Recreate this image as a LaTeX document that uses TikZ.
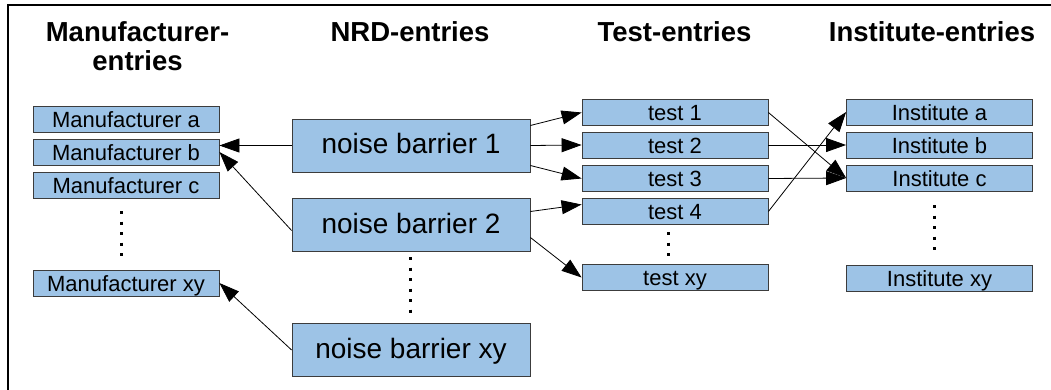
\documentclass[tikz,border=0pt]{standalone}
\usepackage{fontspec}
\setmainfont{Liberation Sans}
\usetikzlibrary{arrows.meta}
\definecolor{boxfill}{RGB}{157,195,230}
\definecolor{boxline}{RGB}{60,60,60}
\begin{document}
\begin{tikzpicture}[x=1pt,y=-1pt,
  box/.style={draw=boxline, line width=0.8pt, fill=boxfill, inner sep=0pt, anchor=center},
  small/.style={box, minimum width=186pt, minimum height=26pt, text height=18.5pt, text depth=2pt, font=\fontsize{22}{24}\selectfont},
  big/.style={box, minimum width=238pt, minimum height=53pt, text height=21pt, text depth=4pt, font=\fontsize{28}{30}\selectfont},
  head/.style={font=\fontsize{27.5}{30}\selectfont\bfseries, anchor=base, inner sep=0pt},
  arr/.style={-{Triangle[length=20pt,width=14pt]}, line width=0.8pt},
  dotline/.style={line width=3pt, dash pattern=on 3pt off 7.5pt}]
\useasboundingbox (0,0) rectangle (1051,390);
% frame
\draw[line width=2pt] (8,391) -- (8,5) -- (1052,5);
% headings
\node[head] (h1) at (137.5,42) {Manufacturer-};
\node[head] (h1b) at (137.5,71) {entries};
\node[head] (h2) at (410,42) {NRD-entries};
\node[head] (h3) at (674.5,42) {Test-entries};
\node[head] (h4) at (932,42) {Institute-entries};
% manufacturers
\node[small] (ma) at (126,119) {Manufacturer a};
\node[small] (mb) at (126,152) {Manufacturer b};
\node[small] (mc) at (126,185) {Manufacturer c};
\node[small] (mxy) at (126,283) {Manufacturer xy};
\draw[dotline] (121,211) -- (121,257);
% noise barriers
\node[big] (nb1) at (411,145.5) {noise barrier 1};
\node[big] (nb2) at (411,224.5) {noise barrier 2};
\node[big] (nbxy) at (411,350) {noise barrier xy};
\draw[dotline] (410,257) -- (410,317);
% tests
\node[small] (t1) at (675,112.5) {test 1};
\node[small] (t2) at (675,145) {test 2};
\node[small] (t3) at (675,178.5) {test 3};
\node[small] (t4) at (675,211.5) {test 4};
\node[small] (txy) at (675,277.5) {test xy};
\draw[dotline] (668,232) -- (668,257);
% institutes
\node[small] (ia) at (939.5,112) {Institute a};
\node[small] (ib) at (939.5,145) {Institute b};
\node[small] (ic) at (939.5,178) {Institute c};
\node[small] (ixy) at (939.5,278) {Institute xy};
\draw[dotline] (934,205) -- (934,251);
% arrows to manufacturers
\draw[arr] (nb1.west) -- (nb1.west -| mb.east);
\draw[arr] ([yshift=-6pt]nb2.west) -- (mb.east);
\draw[arr] (nbxy.west) -- (mxy.east);
% arrows to tests
\draw[arr] ([yshift=20pt]nb1.east) -- (t1.west);
\draw[arr] (nb1.east) -- (t2.west);
\draw[arr] ([yshift=-20pt]nb1.east) -- (t3.west);
\draw[arr] ([yshift=13pt]nb2.east) -- ([yshift=7pt]t4.west);
\draw[arr] ([yshift=-13pt]nb2.east) -- (txy.west);
% arrows to institutes
\draw[arr] (t1.east) -- (ic.west);
\draw[arr] (t2.east) -- (ib.west);
\draw[arr] (t3.east) -- (ic.west);
\draw[arr] (t4.east) -- (ia.west);
\end{tikzpicture}
\end{document}
